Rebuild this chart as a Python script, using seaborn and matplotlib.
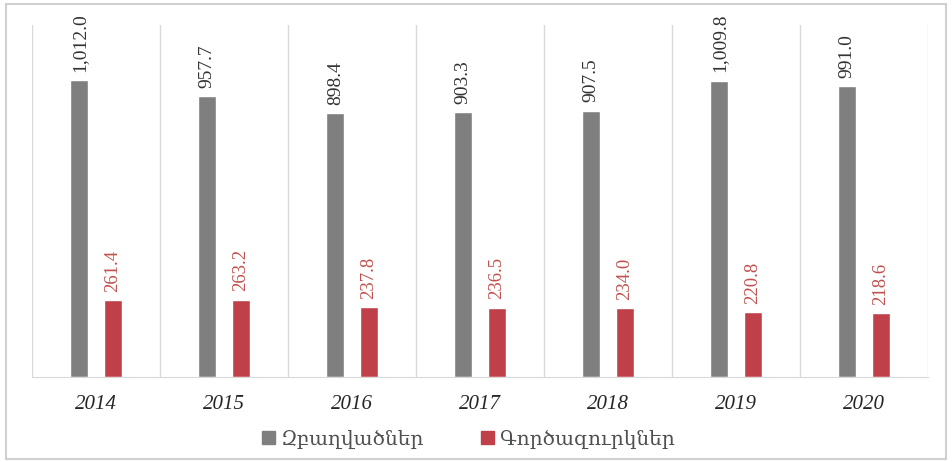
import pandas as pd
import matplotlib.pyplot as plt
import matplotlib.patches as patches
import seaborn as sns

years = ['2014', '2015', '2016', '2017', '2018', '2019', '2020']
employed = [1012.0, 957.7, 898.4, 903.3, 907.5, 1009.8, 991.0]
unemployed = [261.4, 263.2, 237.8, 236.5, 234.0, 220.8, 218.6]
series = ['Զբաղվածներ', 'Գործազուրկներ']

gray = '#7f7f7f'
red = '#c0404a'
serif = ['Liberation Serif', 'DejaVu Serif']

df = pd.DataFrame({
    'year': years * 2,
    'value': employed + unemployed,
    'series': [series[0]] * len(years) + [series[1]] * len(years),
})

sns.set_style('white')
plt.rcParams['font.family'] = serif

fig = plt.figure(figsize=(9.52, 4.62), dpi=100)
ax = fig.add_axes([32 / 952, 1 - 377 / 462, 896 / 952, 352 / 462])

sns.barplot(data=df, x='year', y='value', hue='series', order=years,
            hue_order=series, palette={series[0]: gray, series[1]: red},
            width=0.52, gap=0.46, saturation=1, legend=False, ax=ax)

# value labels, rotated like the original
label_colors = ['#333333', '#c0504d']
label_sizes = [14, 13.5]
for cont, col, fs in zip(ax.containers, label_colors, label_sizes):
    ax.bar_label(cont, labels=[f'{v.get_height():,.1f}' for v in cont],
                 rotation=90, padding=6, color=col, fontsize=fs,
                 family=serif)

ax.set_ylim(0, 1200)
ax.set_xlim(-0.5, len(years) - 0.5)
for b in range(len(years) + 1):
    ax.axvline(b - 0.5, color='#d9d9d9', lw=1, zorder=0)

ax.set_yticks([])
ax.set_xlabel('')
ax.set_ylabel('')
ax.tick_params(axis='x', length=0, pad=13)
for t in ax.get_xticklabels():
    t.set_fontstyle('italic')
    t.set_fontsize(15)
    t.set_color('#262626')
for s in ['top', 'left', 'right']:
    ax.spines[s].set_visible(False)
ax.spines['bottom'].set_color('#d9d9d9')

handles = [patches.Patch(color=gray), patches.Patch(color=red)]
fig.legend(handles, series, loc='center', bbox_to_anchor=(0.492, 1 - 440 / 462),
           ncol=2, frameon=False, handlelength=0.65, handleheight=0.65,
           handletextpad=0.3, columnspacing=2.8, prop={'family': serif, 'size': 14.5},
           labelcolor='#505050')

fig.patches.append(patches.Rectangle((6 / 952, 3 / 462), 940 / 952, 455 / 462,
                                     transform=fig.transFigure, fill=False,
                                     edgecolor='#d0d0d0', lw=1.5))

fig.savefig('out.png', dpi=100)
